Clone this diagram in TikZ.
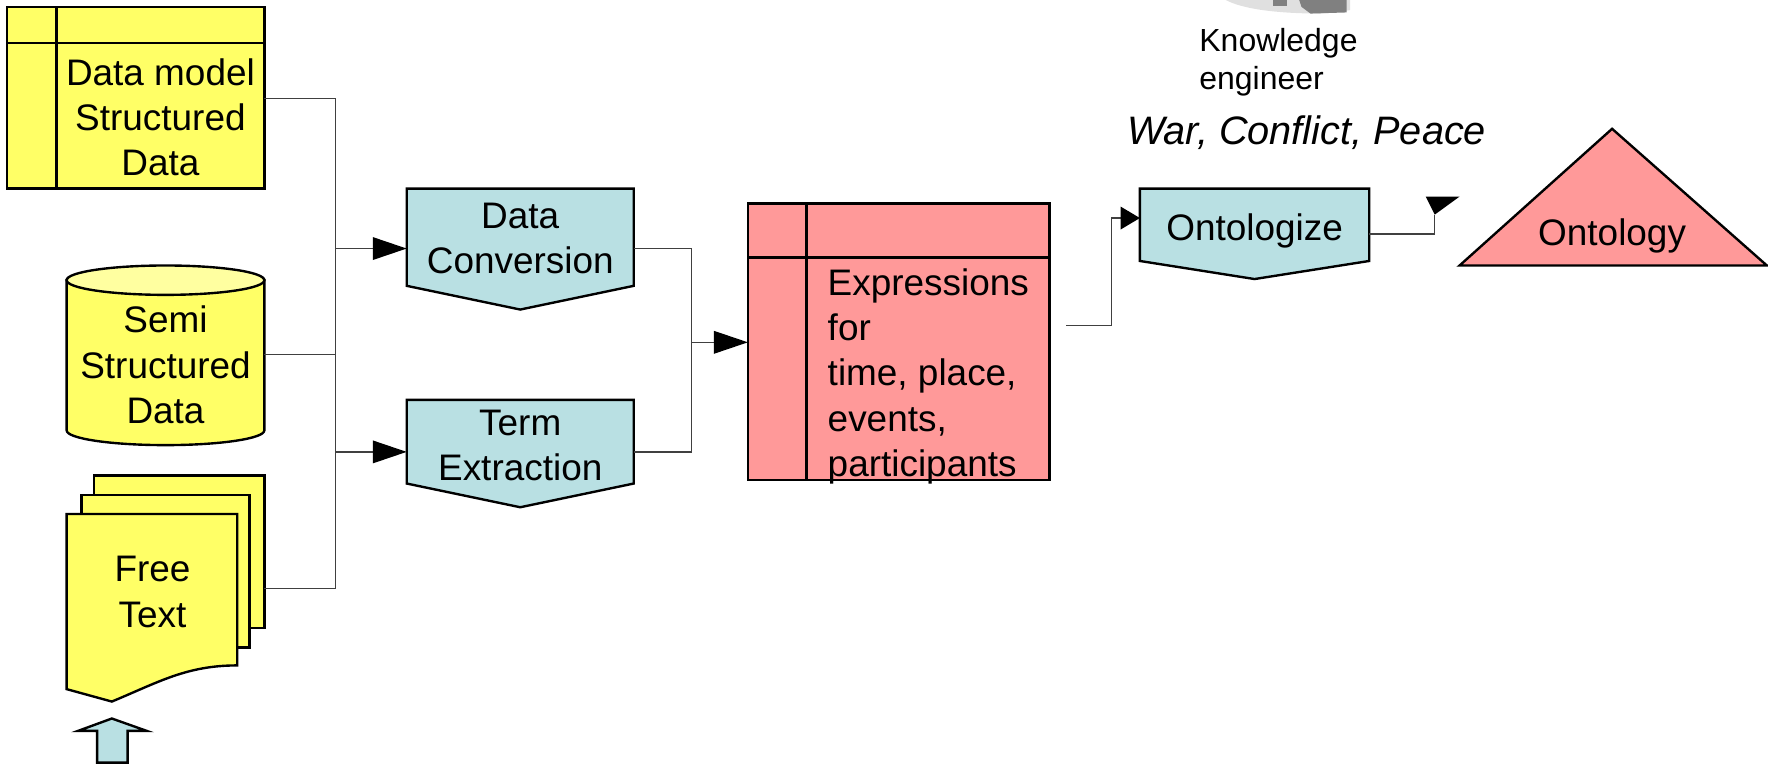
\documentclass[tikz,border=0pt]{standalone}
\usepackage{fontspec}
\setmainfont{Liberation Sans}
\usepackage{tikz}
\usetikzlibrary{calc}
\usetikzlibrary{arrows.meta}
\definecolor{docyellow}{HTML}{FFFF66}
\definecolor{capyellow}{HTML}{FFFFA0}
\definecolor{procblue}{HTML}{B9E0E3}
\definecolor{exprred}{HTML}{FF9999}
\tikzstyle{shp}=[draw=black, line width=0.6pt]
\tikzstyle{conn}=[draw=black!75, line width=0.35pt]
\tikzstyle{arr}=[conn, -{Triangle[length=3mm,width=2mm,color=black]}]
\tikzstyle{txt}=[inner sep=0pt, align=center, font=\fontsize{9.3}{11.4}\selectfont]
\newcommand{\busX}{297}
\newcommand{\mrgX}{612}
\newcommand{\tablebox}[7]{
\draw[shp, fill=#1] (#2,#3) rectangle (#4,#5);
\draw[shp] (#2,#6) -- (#4,#6);
\draw[shp] (#7,#3) -- (#7,#5);
}
\newcommand{\offpage}[5]{
\draw[shp, fill=procblue] (#1,#2) -- (#3,#2) -- (#3,#4) -- ({(#1+#3)/2},#5) -- (#1,#4) -- cycle;
}

\begin{document}
\begin{tikzpicture}[x=0.1mm, y=-0.1mm]
\useasboundingbox (0,0) rectangle (1565,683);
\begin{scope}
\clip (0,0) rectangle (1565,683);
\fill[black!12] (1085,0) .. controls (1100,8) and (1130,12) .. (1170,12) -- (1195,9) -- (1195,0) -- cycle;
\fill[black!50] (1150,0) -- (1152,6) -- (1160,12) -- (1192,11) -- (1192,0) -- cycle;
\fill[black!50] (1127,0) rectangle (1139,5);
\end{scope}

\tablebox{docyellow}{6}{6}{234}{167}{38}{50}
\node[txt] (sd) at (142,104) {Data model\\Structured\\Data};

\draw[shp, fill=docyellow] (59,248) -- (59,381) arc[start angle=180, end angle=0, x radius=87.5, y radius=13] -- (234,248) -- cycle;
\draw[shp, fill=capyellow] (146.5,248) ellipse[x radius=87.5, y radius=13];
\node[txt] (ss) at (146.5,323) {Semi\\Structured\\Data};

\draw[shp, fill=docyellow] (83,421) rectangle (234,556);
\draw[shp, fill=docyellow] (72,438) rectangle (221,573);
\draw[shp, fill=docyellow] (59,455) -- (210,455) -- (210,589) .. controls (165,589) and (140,604) .. (99,621) -- (59,610) -- cycle;
\node[txt] (ft) at (135,524) {Free\\Text};
\draw[shp, fill=procblue] (99,636) -- (130,647) -- (113,647) -- (113,675) -- (86,675) -- (86,647) -- (69,647) -- cycle;

\coordinate (sdout) at (234,87);
\coordinate (ssout) at (234,314);
\coordinate (ftout) at (234,521);
\coordinate (busa) at (\busX,87);
\coordinate (busb) at (\busX,521);
\draw[conn] (sdout) -- (busa) -- (busb) -- (ftout);
\draw[conn] (ssout) -- (ssout -| busa);

\offpage{360}{167}{561}{253}{274}
\node[txt] (dc) at (460.5,211) {Data\\Conversion};
\offpage{360}{354}{561}{428}{449}
\node[txt] (te) at (460.5,394) {Term\\Extraction};
\coordinate (dcin) at (360,220);
\coordinate (dcout) at (561,220);
\coordinate (tein) at (360,400);
\coordinate (teout) at (561,400);
\draw[arr] (busa |- dcin) -- (dcin);
\draw[arr] (busa |- tein) -- (tein);

\coordinate (mrga) at (\mrgX,220);
\coordinate (mrgb) at (\mrgX,400);
\coordinate (exin) at (662,303);
\draw[conn] (dcout) -- (mrga) -- (mrgb) -- (teout);
\draw[arr] (mrga |- exin) -- (exin);

\tablebox{exprred}{662}{180}{929}{425}{228}{714}
\node[txt, align=left, anchor=west] (ex) at (732,333) {Expressions\\for\\time, place,\\events,\\participants};

\offpage{1009}{167}{1212}{231}{247}
\node[txt, anchor=base] (on) at (1110.5,213) {Ontologize};
\coordinate (exout) at (944,288);
\coordinate (onin) at (1009,193);
\draw[conn, -{Triangle[length=1.7mm,width=2mm,color=black]}] (exout) -- ++(40,0) |- (onin);

\draw[shp, fill=exprred] (1427,114) -- (1564,235) -- (1292,235) -- cycle;
\node[txt, anchor=base] (ot) at (1427,217) {Ontology};
\coordinate (onout) at (1212,207);
\coordinate (otin) at (1270,190);
\draw[conn] (onout) -| (otin);
\fill[black] (1262,174) -- (1292,174) -- (otin) -- cycle;

\node[inner sep=0pt, align=left, anchor=west, font=\fontsize{8.05}{9.4}\selectfont] (ke) at (1061,55) {Knowledge\\engineer};
\node[inner sep=0pt, anchor=base west, font=\fontsize{10}{12}\selectfont\itshape] (wcp) at (997,128) {War, Conflict, Peace};
\end{tikzpicture}
\end{document}
